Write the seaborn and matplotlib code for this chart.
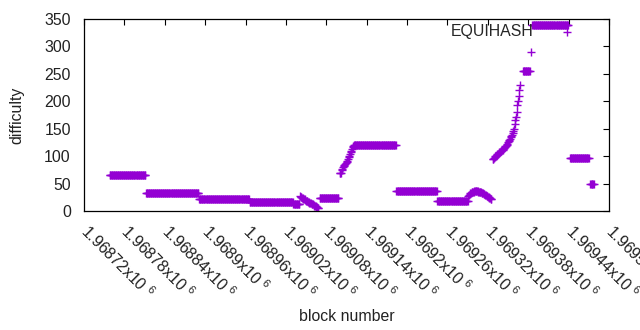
import numpy as np
import pandas as pd
import matplotlib
matplotlib.use('Agg')
import matplotlib.pyplot as plt
from matplotlib.transforms import ScaledTranslation
import seaborn as sns

# flat runs of difficulty: first block, last block, value
run_first = [1968758, 1968812, 1968891, 1968966, 1969031, 1969070, 1969100,
             1969122, 1969184, 1969245, 1969372, 1969384, 1969386, 1969442, 1969472]
run_last = [1968811, 1968890, 1968965, 1969030, 1969040, 1969098, 1969102,
            1969183, 1969244, 1969290, 1969382, 1969384, 1969439, 1969470, 1969477]
run_value = [65, 32, 21, 16, 12, 23, 69,
             121, 37, 19, 255, 289, 339, 96, 49]

# parts that change block by block: first block, then one value per block
drop_first = 1969041
drop_values = [27, 26, 25, 24, 23, 22, 21, 21, 20, 19, 18, 18, 17, 16,
               15, 15, 14, 13, 13, 12, 11, 10, 10, 9, 8, 7, 6, 5]
rise_first = 1969103
rise_values = [74, 77, 80, 82, 84, 86, 88, 90, 92, 95, 98, 101, 104, 107,
               110, 113, 116, 118, 120]
bump_first = 1969291
bump_values = [28, 30, 31, 32, 33, 34, 34, 35, 35, 36, 36, 36, 36, 36, 36,
               35, 35, 35, 34, 34, 33, 33, 32, 31, 31, 30, 29, 28, 27, 26,
               25, 24, 23, 22, 21]
climb_first = 1969327
climb_values = [94, 95, 97, 99, 100, 101, 102, 103, 104, 105, 107, 108, 109,
                110, 111, 112, 113, 115, 116, 118, 119, 121, 123, 125, 127,
                129, 132, 134, 137, 139, 142, 146, 150, 158, 166, 172, 180,
                193, 201, 210, 220, 230]

tick_blocks = list(range(1968720, 1969501, 60))
tick_text = ['1.96872', '1.96878', '1.96884', '1.9689', '1.96896', '1.96902',
             '1.96908', '1.96914', '1.9692', '1.96926', '1.96932', '1.96938',
             '1.96944', '1.9695']

blocks, diffs = [], []
for a, b, v in zip(run_first, run_last, run_value):
    blocks += list(range(a, b + 1))
    diffs += [v] * (b - a + 1)
for first, vals in [(drop_first, drop_values), (rise_first, rise_values),
                    (bump_first, bump_values), (climb_first, climb_values)]:
    blocks += list(range(first, first + len(vals)))
    diffs += vals
df = pd.DataFrame({'block': blocks, 'difficulty': diffs}).sort_values('block')

sns.set_style('white')
plt.rcParams['font.family'] = ['Liberation Sans', 'DejaVu Sans']
plt.rcParams['mathtext.default'] = 'regular'
fs = 11.4

fig = plt.figure(figsize=(6.4, 3.3), dpi=100)
ax = fig.add_axes([84 / 640, 1 - 211 / 330, 525 / 640, 192 / 330])

sns.scatterplot(data=df, x='block', y='difficulty', ax=ax, marker='+',
                color='#9400d3', s=30, linewidth=1, label='EQUIHASH')

ax.set_xlim(1968720, 1969500)
ax.set_ylim(0, 350)
ax.set_yticks(range(0, 351, 50))
ax.set_xticks(tick_blocks)
ax.set_xticklabels([t + 'x10 $^{6}$' for t in tick_text], rotation=-45,
                   ha='left', va='center', rotation_mode='anchor')
shift = ScaledTranslation(4 / 100, 0, fig.dpi_scale_trans)
for lbl in ax.get_xticklabels():
    lbl.set_transform(lbl.get_transform() + shift)
ax.tick_params(direction='in', length=4.5, width=0.8, labelsize=fs,
               top=True, right=True, color='black', labelcolor='#222222')
ax.tick_params(axis='x', pad=12)
ax.tick_params(axis='y', pad=9.5)
for s in ax.spines.values():
    s.set_color('black')
    s.set_linewidth(0.9)

ax.set_xlabel('block number', fontsize=fs, color='#222222', labelpad=5)
ax.set_ylabel('difficulty', fontsize=fs, color='#222222', labelpad=14)

ax.legend(loc='upper right', bbox_to_anchor=(0.935, 0.975), frameon=False,
          markerfirst=False, handlelength=1, handletextpad=1.6,
          borderpad=0, borderaxespad=0, fontsize=fs)

fig.savefig('out.png', dpi=100)
